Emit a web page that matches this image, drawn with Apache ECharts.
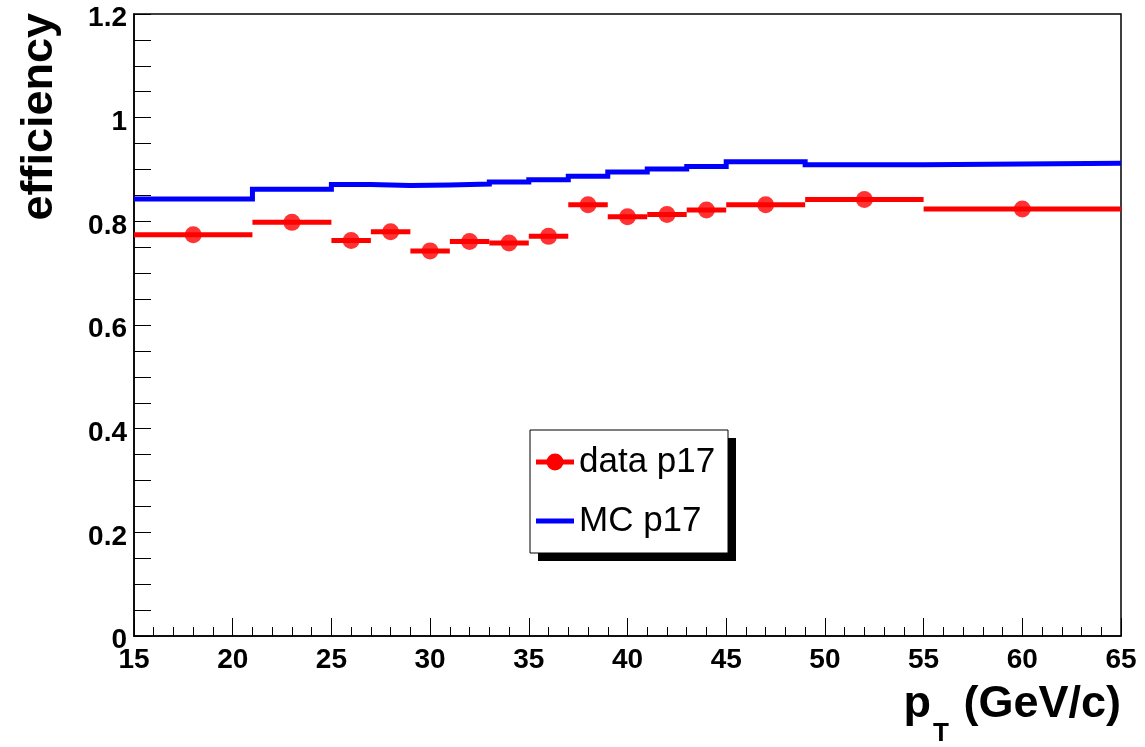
<!DOCTYPE html>
<html><head><meta charset="utf-8">
<script src="https://cdn.jsdelivr.net/npm/echarts/dist/echarts.min.js"></script>
<style>html,body{margin:0;padding:0;background:#fff}#c{width:1145px;height:747px}</style>
</head><body><div id="c"></div>
<script>
// Bin edges (GeV/c)
const binLow  = [15, 21, 25, 27, 29, 31, 33, 35, 37, 39, 41, 43, 45, 49, 55];
const binHigh = [21, 25, 27, 29, 31, 33, 35, 37, 39, 41, 43, 45, 49, 55, 65];
// Efficiencies
const dataEff = [0.774, 0.798, 0.763, 0.780, 0.743, 0.761, 0.758, 0.771, 0.832, 0.809, 0.813, 0.822, 0.832, 0.842, 0.824];
const mcEff   = [0.843, 0.862, 0.871, 0.869, 0.870, 0.872, 0.876, 0.880, 0.887, 0.895, 0.901, 0.906, 0.915, 0.909, 0.912];
const seriesNames = ['data p17', 'MC p17'];
const xTitle = ['p', 'T', ' (GeV/c)'];
const yTitle = 'efficiency';

const FONT = 'Liberation Sans, Arial, Helvetica, sans-serif';
const chart = echarts.init(document.getElementById('c'), null, {renderer: 'canvas'});

const mcStep = binLow.map((x, i) => [x, mcEff[i]]).concat([[binHigh[binHigh.length - 1], mcEff[mcEff.length - 1]]]);
const dataBars = binLow.map((x, i) => [x, binHigh[i], dataEff[i]]);
const dataPts = binLow.map((x, i) => [(x + binHigh[i]) / 2, dataEff[i]]);

const tickStyle = {color: '#000', width: 1};

chart.setOption({
  animation: false,
  backgroundColor: '#fff',
  grid: {left: 134, right: 24, top: 14, bottom: 111, show: true, borderColor: '#000', borderWidth: 1.5, backgroundColor: 'transparent'},
  xAxis: {
    type: 'value', min: 15, max: 65, interval: 5,
    axisLine: {show: true, onZero: false, lineStyle: {color: '#000', width: 1.5}},
    axisTick: {show: true, inside: true, length: 18, lineStyle: tickStyle},
    minorTick: {show: true, splitNumber: 5, length: 9, lineStyle: tickStyle},
    axisLabel: {color: '#000', fontSize: 28, fontWeight: 'bold', fontFamily: FONT, margin: 10},
    splitLine: {show: false}
  },
  yAxis: {
    type: 'value', min: 0, max: 1.2, interval: 0.2,
    axisLine: {show: true, lineStyle: {color: '#000', width: 1.5}},
    axisTick: {show: true, inside: true, length: 17, lineStyle: tickStyle},
    minorTick: {show: true, splitNumber: 4, length: 17, lineStyle: tickStyle},
    axisLabel: {color: '#000', fontSize: 28, fontWeight: 'bold', fontFamily: FONT, margin: 7, verticalAlign: 'top', lineHeight: 9},
    splitLine: {show: false}
  },
  legend: {
    left: 530, top: 430, orient: 'vertical', z: 6,
    padding: [12, 17, 12, 6], itemGap: 19,
    itemWidth: 38, itemHeight: 17,
    backgroundColor: 'transparent', borderWidth: 0,
    selectedMode: false,
    textStyle: {color: '#000', fontSize: 35, fontFamily: FONT, lineHeight: 40},
    data: [
      {name: seriesNames[0], icon: 'path://M0,6L38,6L38,11L0,11Z M10.5,8.5A8.5,8.5 0 1 1 27.5,8.5A8.5,8.5 0 1 1 10.5,8.5Z'},
      {name: seriesNames[1], icon: 'path://M0,0L38,0L38,5L0,5Z'}
    ]
  },
  graphic: [
    {type: 'rect', z: 5, shape: {x: 538, y: 438, width: 198, height: 123}, style: {fill: '#000'}},
    {type: 'rect', z: 5, shape: {x: 530, y: 430, width: 198, height: 123}, style: {fill: '#fff', stroke: '#000', lineWidth: 1}},
    {type: 'text', x: 40, y: 13, rotation: Math.PI / 2, z: 10,
      style: {text: yTitle, fill: '#000', fontSize: 45, fontWeight: 'bold', fontFamily: FONT, align: 'right', verticalAlign: 'middle'}},
    {type: 'text', x: 1121, y: 682, z: 10,
      style: {text: '{a|' + xTitle[0] + '}{s|' + xTitle[1] + '}{a|' + xTitle[2] + '}', align: 'right', verticalAlign: 'top', fill: '#000',
        rich: {
          a: {fontSize: 45, fontWeight: 'bold', fontFamily: FONT, lineHeight: 50, verticalAlign: 'top', fill: '#000'},
          s: {fontSize: 26, fontWeight: 'bold', fontFamily: FONT, lineHeight: 26, verticalAlign: 'top', padding: [39, 2, 0, 2], fill: '#000'}
        }}}
  ],
  series: [
    {
      name: seriesNames[1], type: 'line', step: 'end', data: mcStep,
      symbol: 'none', itemStyle: {color: '#0000ff'},
      lineStyle: {color: '#0000ff', width: 5, join: 'miter', cap: 'butt'}, z: 2
    },
    {
      name: seriesNames[0], type: 'custom', data: dataBars,
      encode: {x: [0, 1], y: 2},
      itemStyle: {color: '#ff0000'},
      renderItem: function (params, api) {
        const a = api.coord([api.value(0), api.value(2)]);
        const b = api.coord([api.value(1), api.value(2)]);
        return {type: 'line', shape: {x1: a[0], y1: a[1], x2: b[0], y2: b[1]},
          style: {stroke: '#ff0000', lineWidth: 5, lineCap: 'butt'}};
      }, z: 3
    },
    {
      name: seriesNames[0], type: 'scatter', data: dataPts,
      symbol: 'circle', symbolSize: 17, itemStyle: {color: '#ff0000'}, z: 4
    }
  ]
});
</script>
</body></html>
